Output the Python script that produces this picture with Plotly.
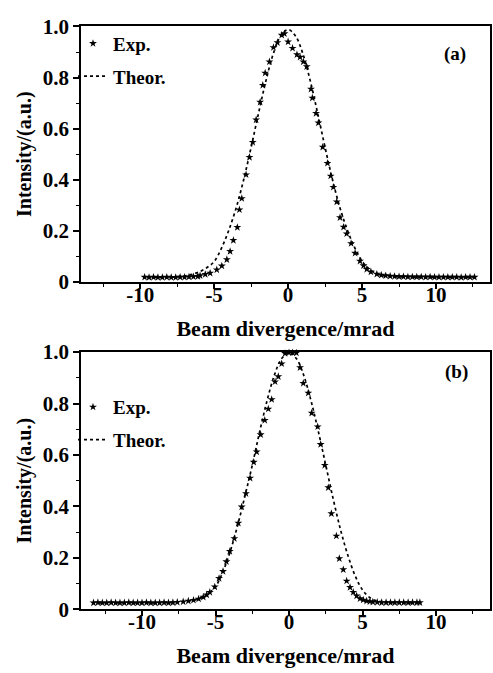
import plotly.graph_objects as go

# ---------------- data: panel (a) ----------------
exp_a_x = [-9.7, -9.4, -9.1, -8.8, -8.5, -8.2, -7.9, -7.6, -7.3, -7.0, -6.7, -6.4, -6.1,
           -5.95, -5.6, -5.27, -4.82, -4.48, -4.14, -3.92, -3.7, -3.43, -3.29, -3.13,
           -2.84, -2.61, -2.39, -2.16, -1.89, -1.71, -1.55, -1.26, -0.99, -0.72, -0.43,
           -0.25, 0.0, 0.3, 0.6, 0.81, 1.03, 1.26, 1.55, 1.64, 1.89, 2.05, 2.34, 2.66,
           2.88, 3.06, 3.29, 3.51, 3.75, 3.96, 4.26, 4.53, 4.86, 5.1, 5.32, 5.6,
           6.0, 6.3, 6.6, 6.9, 7.2, 7.5, 7.8, 8.1, 8.4, 8.7, 9.0, 9.3, 9.6, 9.9,
           10.2, 10.5, 10.8, 11.1, 11.4, 11.7, 12.0, 12.3, 12.6]
exp_a_y = [0.019, 0.018, 0.019, 0.018, 0.018, 0.019, 0.018, 0.018, 0.019, 0.019, 0.020, 0.021, 0.022,
           0.025, 0.030, 0.035, 0.048, 0.063, 0.088, 0.120, 0.163, 0.214, 0.283, 0.327,
           0.420, 0.488, 0.547, 0.635, 0.704, 0.770, 0.818, 0.862, 0.918, 0.937, 0.966,
           0.972, 0.940, 0.915, 0.890, 0.880, 0.862, 0.843, 0.755, 0.720, 0.660, 0.623, 0.528, 0.465,
           0.415, 0.371, 0.314, 0.252, 0.215, 0.189, 0.151, 0.113, 0.082, 0.064, 0.050, 0.040,
           0.031, 0.027, 0.025, 0.023, 0.022, 0.021, 0.021, 0.020, 0.020, 0.020, 0.020, 0.019, 0.020, 0.019,
           0.019, 0.019, 0.019, 0.019, 0.019, 0.018, 0.019, 0.019, 0.019]

theor_a_x = [-9.5, -9, -8.5, -8, -7.5, -7, -6.5, -6, -5.5, -5, -4.5, -4, -3.5, -3, -2.5, -2,
             -1.5, -1, -0.5, 0, 0.5, 1, 1.5, 2, 2.5, 3, 3.5, 4, 4.5, 5, 5.5, 6, 6.5, 7,
             7.5, 8, 8.5, 9, 10, 11, 12, 12.5]
theor_a_y = [0.018, 0.018, 0.018, 0.019, 0.021, 0.024, 0.030, 0.040, 0.056, 0.080, 0.133, 0.204,
             0.292, 0.401, 0.527, 0.660, 0.787, 0.893, 0.963, 0.988, 0.963, 0.893, 0.787, 0.660,
             0.527, 0.401, 0.292, 0.204, 0.135, 0.082, 0.050, 0.032, 0.024, 0.021, 0.020, 0.019,
             0.018, 0.018, 0.018, 0.018, 0.018, 0.018]

# ---------------- data: panel (b) ----------------
exp_b_x = [-13.3, -13.0, -12.7, -12.4, -12.1, -11.8, -11.5, -11.2, -10.9, -10.6, -10.3, -10.0,
           -9.7, -9.4, -9.1, -8.8, -8.5, -8.2, -7.9, -7.6,
           -7.2, -6.85, -6.5, -6.15, -5.83, -5.6, -5.39, -5.05, -4.76, -4.49, -4.26, -4.03,
           -3.72, -3.45, -3.22, -2.93, -2.65, -2.4, -2.2, -1.93, -1.65, -1.41, -1.18, -0.95,
           -0.73, -0.5, -0.27, 0.0, 0.25, 0.5, 0.75, 0.97, 1.31, 1.54, 1.95, 2.15, 2.43, 2.67,
           2.88, 3.22, 3.42, 3.69, 3.92, 4.15, 4.37, 4.6, 4.83, 5.05, 5.28, 5.5, 5.7, 6.0,
           6.3, 6.6, 6.9, 7.2, 7.5, 7.8, 8.1, 8.4, 8.7, 8.9]
exp_b_y = [0.025, 0.026, 0.025, 0.025, 0.026, 0.025, 0.025, 0.025, 0.026, 0.025, 0.025, 0.025,
           0.026, 0.025, 0.025, 0.025, 0.026, 0.025, 0.026, 0.027,
           0.029, 0.032, 0.035, 0.040, 0.047, 0.056, 0.066, 0.087, 0.120, 0.147, 0.185, 0.225,
           0.275, 0.335, 0.398, 0.450, 0.510, 0.572, 0.612, 0.679, 0.735, 0.779, 0.816, 0.885,
           0.905, 0.955, 0.995, 0.998, 0.998, 0.997, 0.940, 0.879, 0.841, 0.763, 0.710, 0.641, 0.560, 0.473,
           0.372, 0.285, 0.197, 0.154, 0.110, 0.085, 0.066, 0.052, 0.041, 0.036, 0.032, 0.030, 0.028, 0.027,
           0.026, 0.026, 0.026, 0.026, 0.026, 0.026, 0.026, 0.026, 0.026, 0.026]

theor_b_x = [-13, -12, -11, -10, -9, -8, -7.5, -7, -6.5, -6, -5.5, -5, -4.5, -4, -3.5, -3,
             -2.5, -2, -1.5, -1, -0.5, 0, 0.5, 1, 1.5, 2, 2.5, 3, 3.5, 4, 4.5, 5, 5.5, 6,
             6.5, 7, 8, 9]
theor_b_y = [0.025, 0.025, 0.025, 0.025, 0.025, 0.026, 0.027, 0.030, 0.035, 0.044, 0.060, 0.088,
             0.145, 0.225, 0.325, 0.440, 0.560, 0.690, 0.810, 0.910, 0.975, 0.998, 0.975, 0.910,
             0.810, 0.690, 0.560, 0.430, 0.310, 0.210, 0.130, 0.075, 0.045, 0.032, 0.028, 0.026,
             0.025, 0.025]

y_tickvals = [0, 0.2, 0.4, 0.6, 0.8, 1.0]
y_ticktext = ["0", "0.2", "0.4", "0.6", "0.8", "1.0"]
x_tickvals = [-10, -5, 0, 5, 10]
x_ticktext = ["-10", "-5", "0", "5", "10"]

W, H = 493, 673
FONT = "Liberation Serif"

fig = go.Figure()

exp_style = dict(mode="markers", marker=dict(symbol="star", size=6, color="black"), cliponaxis=False)
theor_style = dict(mode="lines", line=dict(color="black", width=1.7, dash="dot", shape="spline"))

fig.add_trace(go.Scatter(x=theor_a_x, y=theor_a_y, name="Theor.", xaxis="x", yaxis="y",
                         legend="legend", legendgroup="t", legendrank=2, **theor_style))
fig.add_trace(go.Scatter(x=exp_a_x, y=exp_a_y, name="Exp.", xaxis="x", yaxis="y",
                         legend="legend", legendgroup="e", legendrank=1, **exp_style))
fig.add_trace(go.Scatter(x=theor_b_x, y=theor_b_y, name="Theor.", xaxis="x2", yaxis="y2",
                         legend="legend2", legendgroup="t2", legendrank=2, **theor_style))
fig.add_trace(go.Scatter(x=exp_b_x, y=exp_b_y, name="Exp.", xaxis="x2", yaxis="y2",
                         legend="legend2", legendgroup="e2", legendrank=1, **exp_style))

xdom = [81 / W, 490 / W]
ydom_a = [1 - 280 / H, 1 - 15 / H]
ydom_b = [1 - 619.3 / H, 1 - 352.7 / H]

tickfont = dict(family=FONT, size=21, color="black", weight="bold")
xtitlefont = dict(family=FONT, size=22, color="black", weight="bold")
ytitlefont = dict(family=FONT, size=20, color="black", weight="bold")


def xax(dom_anchor, rng):
    return dict(domain=xdom, anchor=dom_anchor, range=rng, tickmode="array",
                tickvals=x_tickvals, ticktext=x_ticktext, ticks="outside", ticklen=5,
                tickwidth=1.5, tickcolor="black", ticklabelstandoff=-12,
                minor=dict(tick0=0, dtick=2.5, ticks="outside", ticklen=3, tickwidth=1.2, tickcolor="black"),
                showline=True, linewidth=1.8, linecolor="black", mirror=True,
                showgrid=False, zeroline=False, tickfont=tickfont,
                title=dict(text="Beam divergence/mrad", font=xtitlefont, standoff=14))


def yax(dom, anchor):
    return dict(domain=dom, anchor=anchor, range=[0, 1], tickmode="array",
                tickvals=y_tickvals, ticktext=y_ticktext, ticks="outside", ticklen=6,
                tickwidth=1.5, tickcolor="black",
                minor=dict(tick0=0, dtick=0.1, ticks="outside", ticklen=3, tickwidth=1.2, tickcolor="black"),
                showline=True, linewidth=1.8, linecolor="black", mirror=True,
                showgrid=False, zeroline=False, tickfont=tickfont,
                title=dict(text="Intensity/(a.u.)", font=ytitlefont, standoff=6))


def yright(over, anchor):
    return dict(overlaying=over, anchor=anchor, side="right", range=[0, 1], tickmode="linear",
                tick0=0, dtick=0.1, ticks="inside", ticklen=4, tickwidth=1.5, tickcolor="black",
                showticklabels=False, showgrid=False, zeroline=False, showline=False)


leg = dict(font=dict(family=FONT, size=19, color="black", weight="bold"), bgcolor="rgba(0,0,0,0)",
           traceorder="grouped", tracegroupgap=5, itemwidth=30, xanchor="left", yanchor="top")

fig.update_layout(
    width=W, height=H, margin=dict(l=0, r=0, t=0, b=0),
    paper_bgcolor="white", plot_bgcolor="white",
    font=dict(family=FONT, size=20, color="black"),
    xaxis=xax("y", [-14.0, 13.65]),
    yaxis=yax(ydom_a, "x"),
    xaxis2=xax("y2", [-14.15, 13.67]),
    yaxis2=yax(ydom_b, "x2"),
    yaxis3=yright("y", "x"),
    yaxis4=yright("y2", "x2"),
    legend=dict(x=73 / W, y=1 - 13 / H, **leg),
    legend2=dict(x=73 / W, y=1 - 390 / H, **leg),
    showlegend=True,
    annotations=[
        dict(text="(a)", x=468 / W, y=1 - 30 / H, xref="paper", yref="paper", showarrow=False,
             font=dict(family=FONT, size=19, color="black", weight="bold")),
        dict(text="(b)", x=470 / W, y=1 - 373 / H, xref="paper", yref="paper", showarrow=False,
             font=dict(family=FONT, size=19, color="black", weight="bold")),
    ],
)

fig.write_html("out.html")
